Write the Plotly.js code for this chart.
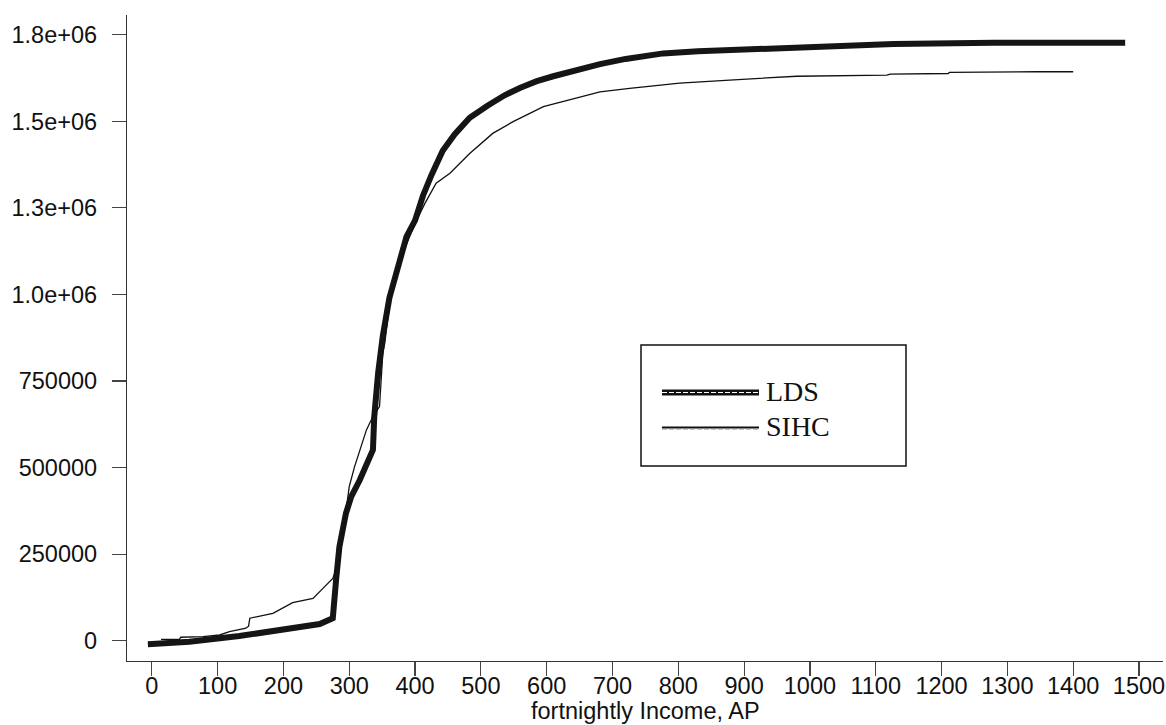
<!DOCTYPE html>
<html>
<head>
<meta charset="utf-8">
<script src="https://cdn.plot.ly/plotly-3.0.1.min.js"></script>
<style>html,body{margin:0;padding:0;background:#fff;}#chart{width:1166px;height:725px;}</style>
</head>
<body>
<div id="chart"></div>
<script>
// ---- data ----
const ldsIncome = [-6, 57, 133, 209, 255, 275, 277, 280, 285, 295, 303, 316, 336, 338, 344, 351, 361, 377, 387, 400, 412, 425, 442, 460, 483, 510, 536, 560, 585, 610, 635, 660, 681, 720, 777, 830, 878, 980, 1056, 1127, 1279, 1479];
const ldsCount  = [-10000, -3000, 13500, 36000, 48000, 65000, 120000, 175000, 271000, 368000, 416000, 464000, 551000, 647000, 775000, 880000, 990000, 1099000, 1167000, 1214000, 1285000, 1345000, 1415000, 1462000, 1510000, 1545000, 1575000, 1597000, 1616000, 1630000, 1643000, 1656000, 1665000, 1680000, 1696000, 1702000, 1706000, 1715000, 1720000, 1723000, 1727000, 1727000];

const sihcIncome = [14, 42, 44, 78, 103, 118, 143, 147, 149, 184, 214, 245, 260, 275, 285, 292, 300, 308, 316, 326, 331, 336, 346, 349, 351, 354, 362, 377, 400, 415, 432, 453, 483, 518, 549, 595, 635, 681, 726, 802, 878, 980, 1117, 1122, 1210, 1212, 1345, 1400];
const sihcCount  = [4000, 4000, 10000, 11500, 16500, 26000, 36000, 42000, 65000, 79000, 110000, 122000, 151000, 180000, 231000, 330000, 445000, 502000, 551000, 608000, 628000, 647000, 676000, 762000, 830000, 859000, 985000, 1099000, 1205000, 1263000, 1321000, 1350000, 1407000, 1465000, 1499000, 1542000, 1561000, 1585000, 1595000, 1610000, 1619000, 1630000, 1633000, 1636000, 1638000, 1641000, 1643000, 1643000];

const seriesNames = ['LDS', 'SIHC'];
const xTickVals = [0,100,200,300,400,500,600,700,800,900,1000,1100,1200,1300,1400,1500];
const yTickVals = [0, 250000, 500000, 750000, 1000000, 1250000, 1500000, 1750000];
const yTickText = ['0', '250000', '500000', '750000', '1.0e+06', '1.3e+06', '1.5e+06', '1.8e+06'];
const xTitle = 'fortnightly Income, AP';

// ---- layout helpers (pixel -> paper) ----
const W = 1166, H = 725, ML = 127, MR = 3, MT = 15, MB = 64;
const PW = W - ML - MR, PH = H - MT - MB;
const px = x => (x - ML) / PW;
const py = y => (H - MB - y) / PH;

const sans = 'Arial, "Liberation Sans", sans-serif';
const serif = '"Times New Roman", "Liberation Serif", serif';

const traces = [
  {x: ldsIncome, y: ldsCount, name: seriesNames[0], mode: 'lines', type: 'scatter',
   line: {color: '#151515', width: 6}, showlegend: false},
  {x: sihcIncome, y: sihcCount, name: seriesNames[1], mode: 'lines', type: 'scatter',
   line: {color: '#111', width: 1.3}, showlegend: false}
];

const legY1 = 392.5, legY2 = 427;
const shapes = [
  {type: 'rect', xref: 'paper', yref: 'paper', x0: px(641), x1: px(906), y0: py(466), y1: py(345),
   line: {color: '#111', width: 1.5}, fillcolor: 'rgba(0,0,0,0)'},
  {type: 'line', xref: 'paper', yref: 'paper', x0: px(662), x1: px(759), y0: py(legY1), y1: py(legY1),
   line: {color: '#111', width: 6}},
  {type: 'line', xref: 'paper', yref: 'paper', x0: px(662), x1: px(759), y0: py(legY1), y1: py(legY1),
   line: {color: '#fff', width: 1, dash: '5px,2px'}},
  {type: 'line', xref: 'paper', yref: 'paper', x0: px(662), x1: px(759), y0: py(legY2 + 0.5), y1: py(legY2 + 0.5),
   line: {color: '#111', width: 2}},
  {type: 'line', xref: 'paper', yref: 'paper', x0: px(662), x1: px(759), y0: py(legY2 + 2), y1: py(legY2 + 2),
   line: {color: '#888', width: 1, dash: '5px,2px'}}
];

const annotations = [
  {xref: 'paper', yref: 'paper', x: px(764), y: py(legY1 - 1), xanchor: 'left', yanchor: 'middle',
   text: seriesNames[0], showarrow: false, font: {family: serif, size: 28, color: '#111'}},
  {xref: 'paper', yref: 'paper', x: px(764), y: py(legY2 - 1), xanchor: 'left', yanchor: 'middle',
   text: seriesNames[1], showarrow: false, font: {family: serif, size: 28, color: '#111'}},
  {xref: 'paper', yref: 'paper', x: 0.5, y: py(725), xanchor: 'center', yanchor: 'bottom',
   text: xTitle, showarrow: false, borderpad: 0, font: {family: sans, size: 23.5, color: '#111'}}
];

const layout = {
  width: W, height: H,
  margin: {l: ML, r: MR, t: MT, b: MB, pad: 0},
  paper_bgcolor: '#fff', plot_bgcolor: '#fff',
  showlegend: false,
  font: {family: sans, color: '#111'},
  xaxis: {
    range: [-37.7, 1536.5], tickmode: 'array', tickvals: xTickVals,
    showgrid: false, zeroline: false, showline: true, linecolor: '#333', linewidth: 1.2,
    ticks: 'outside', ticklen: 14, tickwidth: 1.2, tickcolor: '#444',
    tickfont: {family: sans, size: 23.5, color: '#111'},
    ticklabelstandoff: -10,
    automargin: false
  },
  yaxis: {
    range: [-58620, 1806870], tickmode: 'array', tickvals: yTickVals, ticktext: yTickText,
    showgrid: false, zeroline: false, showline: true, linecolor: '#333', linewidth: 1.2,
    ticks: 'outside', ticklen: 14, tickwidth: 1.2, tickcolor: '#444',
    tickfont: {family: sans, size: 23.5, color: '#111'},
    ticklabelstandoff: 10,
    automargin: false
  },
  shapes: shapes,
  annotations: annotations
};

Plotly.newPlot('chart', traces, layout, {displayModeBar: false, staticPlot: true});
</script>
</body>
</html>
